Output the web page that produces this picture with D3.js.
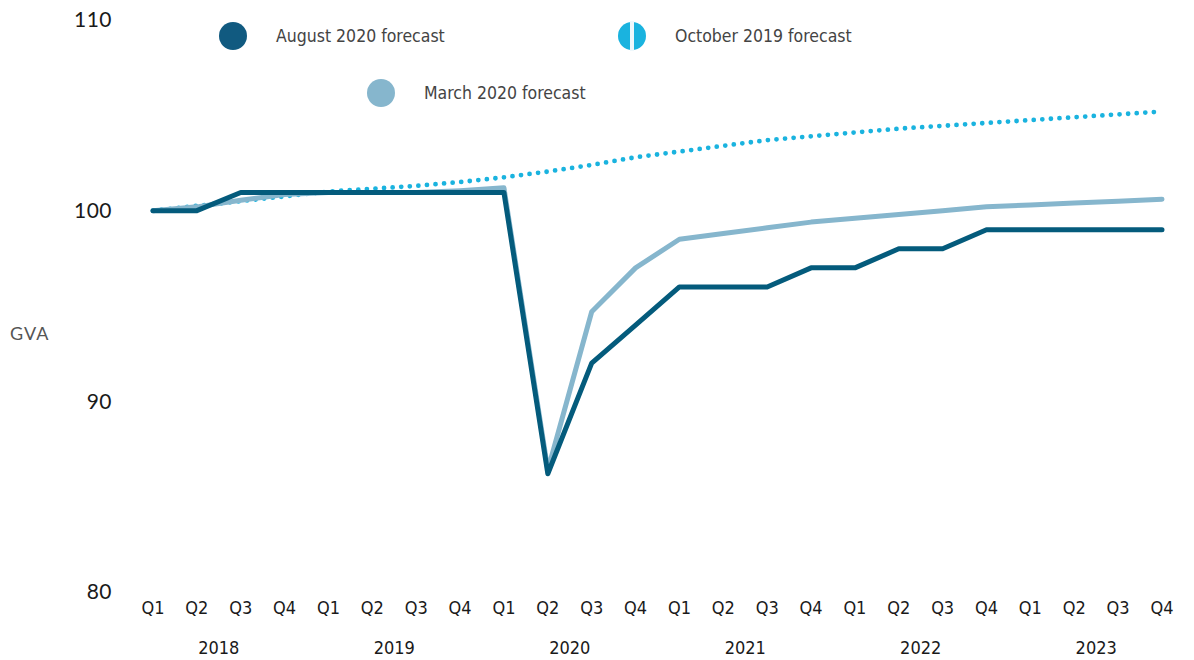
<!DOCTYPE html>
<html lang="en">
<head>
<meta charset="utf-8">
<title>GVA forecasts</title>
<script src="https://cdn.jsdelivr.net/npm/d3@7"></script>
<style>
  body { margin: 0; background: #fff; }
  .cond { font-family: "Liberation Sans Narrow", "DejaVu Sans Condensed", "Roboto", sans-serif; }
  .reg { font-family: "Lato", "Open Sans", sans-serif; }
</style>
</head>
<body>
<script>
// quarters and years along the bottom
var quarters = ["Q1","Q2","Q3","Q4","Q1","Q2","Q3","Q4","Q1","Q2","Q3","Q4",
                "Q1","Q2","Q3","Q4","Q1","Q2","Q3","Q4","Q1","Q2","Q3","Q4"];
var years = ["2018","2019","2020","2021","2022","2023"];
var yTicks = [80, 90, 100, 110];

// GVA index
var aug2020 = [100, 100, 100.95, 100.95, 100.95, 100.95, 100.95, 100.95, 100.95, 86.2, 92, 94,
               96, 96, 96, 97, 97, 98, 98, 99, 99, 99, 99, 99];
var mar2020 = [100, 100.2, 100.55, 100.85, 100.95, 100.95, 100.95, 101.05, 101.2, 86.4, 94.7, 97,
               98.5, 98.8, 99.1, 99.4, 99.6, 99.8, 100, 100.2, 100.3, 100.4, 100.5, 100.6];
var oct2019 = [100, 100.25, 100.5, 100.75, 101, 101.15, 101.3, 101.5, 101.75, 102.05, 102.4, 102.8,
               103.1, 103.4, 103.7, 103.9, 104.1, 104.3, 104.45, 104.6, 104.75, 104.9, 105.05, 105.2];

var w = 1194, h = 660;
var darkBlue = "#045b7c", lightBlue = "#86b6cd", brightBlue = "#1ab3df";

var svg = d3.select("body").append("svg")
  .attr("width", w)
  .attr("height", h);

var x = d3.scaleLinear().domain([0, quarters.length - 1]).range([153, 1162]);
var y = d3.scaleLinear().domain([80, 110]).range([592, 20]);

// y axis labels
svg.selectAll("text.ytick")
  .data(yTicks)
  .enter().append("text")
  .attr("class", "ytick reg")
  .attr("x", 112)
  .attr("y", function(d) { return y(d); })
  .attr("dy", "0.35em")
  .attr("text-anchor", "end")
  .style("font-size", "21px")
  .style("letter-spacing", "0.5px")
  .style("fill", "#1a1a1a")
  .text(function(d) { return d; });

svg.append("text")
  .attr("class", "reg")
  .attr("x", 10)
  .attr("y", 334)
  .attr("dy", "0.35em")
  .style("font-size", "18px")
  .style("letter-spacing", "1px")
  .style("fill", "#555")
  .text("GVA");

// quarter + year labels
svg.selectAll("text.q")
  .data(quarters)
  .enter().append("text")
  .attr("class", "q cond")
  .attr("x", function(d, i) { return x(i); })
  .attr("y", 608)
  .attr("dy", "0.35em")
  .attr("text-anchor", "middle")
  .style("font-size", "18px")
  .style("fill", "#1a1a1a")
  .text(function(d) { return d; });

svg.selectAll("text.yr")
  .data(years)
  .enter().append("text")
  .attr("class", "yr cond")
  .attr("x", function(d, i) { return (x(i * 4 + 1) + x(i * 4 + 2)) / 2; })
  .attr("y", 648)
  .attr("dy", "0.35em")
  .attr("text-anchor", "middle")
  .style("font-size", "18px")
  .style("fill", "#1a1a1a")
  .text(function(d) { return d; });

var line = d3.line()
  .x(function(d, i) { return x(i); })
  .y(function(d) { return y(d); });

// dotted october 2019 line
svg.append("path")
  .datum(oct2019)
  .attr("d", line)
  .attr("fill", "none")
  .attr("stroke", brightBlue)
  .attr("stroke-width", 4.8)
  .attr("stroke-linecap", "round")
  .attr("stroke-dasharray", "0 8.6");

svg.append("path")
  .datum(mar2020)
  .attr("d", line)
  .attr("fill", "none")
  .attr("stroke", lightBlue)
  .attr("stroke-width", 5)
  .attr("stroke-linejoin", "round")
  .attr("stroke-linecap", "round");

svg.append("path")
  .datum(aug2020)
  .attr("d", line)
  .attr("fill", "none")
  .attr("stroke", darkBlue)
  .attr("stroke-width", 5)
  .attr("stroke-linejoin", "round")
  .attr("stroke-linecap", "round");

// legend
var legend = [
  {label: "August 2020 forecast", color: "#115a80", cx: 233, cy: 36},
  {label: "October 2019 forecast", color: brightBlue, cx: 632, cy: 36, split: true},
  {label: "March 2020 forecast", color: lightBlue, cx: 381, cy: 93}
];

var lg = svg.selectAll("g.lg")
  .data(legend)
  .enter().append("g")
  .attr("class", "lg");

lg.append("circle")
  .attr("cx", function(d) { return d.cx; })
  .attr("cy", function(d) { return d.cy; })
  .attr("r", 14)
  .attr("fill", function(d) { return d.color; });

lg.filter(function(d) { return d.split; })
  .append("rect")
  .attr("x", function(d) { return d.cx - 2; })
  .attr("y", function(d) { return d.cy - 15; })
  .attr("width", 4)
  .attr("height", 30)
  .attr("fill", "#eef8fc");

lg.append("text")
  .attr("class", "cond")
  .attr("x", function(d) { return d.cx + 43; })
  .attr("y", function(d) { return d.cy; })
  .attr("dy", "0.35em")
  .style("font-size", "17.5px")
  .style("fill", "#444")
  .text(function(d) { return d.label; });
</script>
</body>
</html>
